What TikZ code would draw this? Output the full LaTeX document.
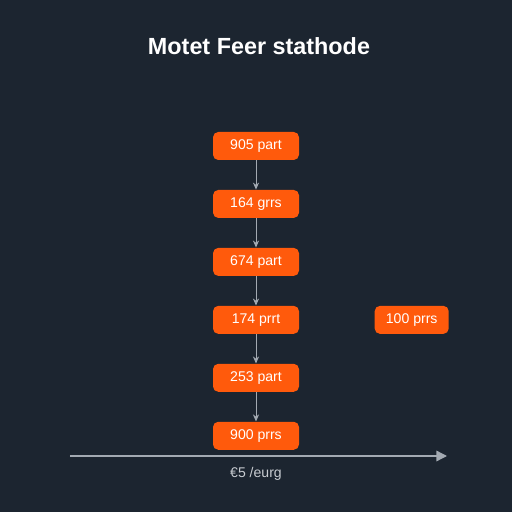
\documentclass[tikz,border=0pt]{standalone}
\usepackage{fontspec}
\setmainfont{Liberation Sans}
\usetikzlibrary{positioning,arrows.meta}
\definecolor{bgdark}{HTML}{1C2530}
\definecolor{boxorange}{HTML}{FF5A0C}
\definecolor{linegray}{HTML}{A3AAB2}

\begin{document}
\begin{tikzpicture}[>={Stealth[length=4pt,width=3.5pt]},node distance=0.585cm,
    every node/.style={text=white,font=\fontsize{8}{9}\selectfont},
    partbox/.style={rectangle,rounded corners=3pt,fill=boxorange,minimum width=1.72cm,minimum height=0.56cm,inner sep=0pt},
    flow/.style={->,draw=linegray,line width=0.5pt}]
        \fill[bgdark] (0,0) rectangle (10.24,10.24);
        \useasboundingbox (0,0) rectangle (10.24,10.24);
        \node[font=\bfseries\fontsize{13.3}{15}\selectfont] (title) at (5.18,9.32) {Motet Feer stathode};
        \node[partbox] (p1) at (5.12,7.32) {905 part};
        \node[partbox,below=of p1] (p2) {164 grrs};
        \node[partbox,below=of p2] (p3) {674 part};
        \node[partbox,below=of p3] (p4) {174 prrt};
        \node[partbox,below=of p4] (p5) {253 part};
        \node[partbox,below=of p5] (p6) {900 prrs};
        \node[partbox,minimum width=1.48cm,right=1.5cm of p4] (side) {100 prrs};
        \draw[flow] (p1) -- (p2);
        \draw[flow] (p2) -- (p3);
        \draw[flow] (p3) -- (p4);
        \draw[flow] (p4) -- (p5);
        \draw[flow] (p5) -- (p6);
        % axis
        \coordinate (axl) at (1.4,1.12);
        \coordinate (axr) at (8.94,1.12);
        \draw[->,>={Triangle[length=6pt,width=6pt]},draw=linegray,fill=linegray,line width=0.8pt] (axl) -- (axr);
        \node[text=linegray!60!white,font=\fontsize{8}{10}\selectfont] (axlabel) at (5.12,0.77) {€5 /eurg};
\end{tikzpicture}
\end{document}
